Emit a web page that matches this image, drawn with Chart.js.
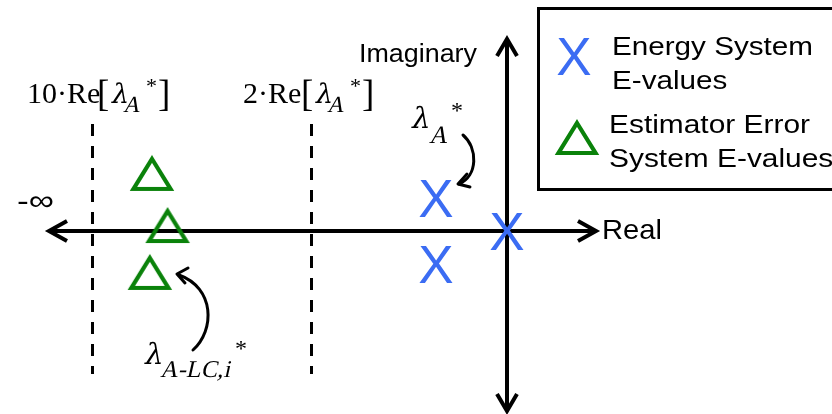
<!DOCTYPE html>
<html><head><meta charset="utf-8">
<script src="https://cdn.jsdelivr.net/npm/chart.js@4"></script>
<style>html,body{margin:0;padding:0;background:#fff;}canvas{display:block;}</style>
</head><body>
<canvas id="c" width="832" height="414"></canvas>
<script>
// ---- data (schematic units: Re[lambda_A*] = -1) ----
const energyRe = [0, -1, -1];
const energyIm = [0, 1, -1];
const estimatorRe = [-5.0, -4.78, -5.03];
const estimatorIm = [1.73, 0.15, -1.27];
const boundRe = [-5.85, -2.76];          // 10·Re[λA*], 2·Re[λA*] (schematic)
const boundMultipliers = ["10", "2"];
const legendLabels = [["Energy System", "E-values"], ["Estimator Error", "System E-values"]];
const axisLabels = ["Real", "Imaginary"];

const BLUE = '#3b6cf3', GREEN = '#0a820a';
const SANS = '"Liberation Sans", Arial, sans-serif';
const SERIF = '"Liberation Serif", "Times New Roman", "DejaVu Serif", serif';
const GREEK = '"DejaVu Serif", "Liberation Serif", serif';

function makeX(){
  const c = document.createElement('canvas'); c.width = 44; c.height = 46;
  const g = c.getContext('2d');
  g.fillStyle = BLUE; g.font = '53px ' + SANS; g.textAlign = 'center'; g.textBaseline = 'alphabetic';
  g.fillText('X', 22, 42);
  return c;
}
function makeTri(){
  const c = document.createElement('canvas'); c.width = 50; c.height = 42;
  const g = c.getContext('2d');
  g.strokeStyle = GREEN; g.lineWidth = 4.2; g.lineJoin = 'miter';
  g.beginPath(); g.moveTo(25, 6); g.lineTo(43.5, 36); g.lineTo(6.5, 36); g.closePath(); g.stroke();
  return c;
}
const xImg = makeX(), triImg = makeTri();

function fitText(ctx, text, x, y, font, width){
  ctx.save(); ctx.font = font;
  const w = ctx.measureText(text).width;
  const s = width ? width / w : 1;
  ctx.translate(x, y); ctx.scale(s, 1); ctx.fillText(text, 0, 0); ctx.restore();
  return s;
}
// slanted (pseudo-italic) text
function slantText(ctx, text, x, y, size, family){
  ctx.save(); ctx.font = size + 'px ' + (family || SERIF);
  ctx.translate(x, y); ctx.transform(1, 0, -0.22, 1, 0, 0); ctx.fillText(text, 0, 0); ctx.restore();
}
function lambda(ctx, x, y, size){ slantText(ctx, '\u03BB', x, y, size, GREEK); }
function chevron(ctx, tx, ty, ax, ay, bx, by){
  ctx.beginPath(); ctx.moveTo(ax, ay); ctx.lineTo(tx, ty); ctx.lineTo(bx, by); ctx.stroke();
}

const XMIN = -507/71, XMAX = (832-507)/71, YMAX = 231/33, YMIN = -(414-231)/33;

const diagram = {
  id: 'diagram',
  beforeDatasetsDraw(chart){
    const ctx = chart.ctx, xs = chart.scales.x, ys = chart.scales.y;
    const ox = xs.getPixelForValue(0), oy = ys.getPixelForValue(0);
    ctx.save();
    ctx.strokeStyle = '#000'; ctx.lineCap = 'butt';
    // dashed bound lines
    ctx.lineWidth = 3; ctx.setLineDash([12, 10]);
    boundRe.forEach(v => {
      const px = Math.round(xs.getPixelForValue(v)) + 0.5;
      ctx.beginPath(); ctx.moveTo(px, 124); ctx.lineTo(px, 374); ctx.stroke();
    });
    ctx.setLineDash([]);
    // axes
    ctx.lineWidth = 4;
    ctx.beginPath(); ctx.moveTo(50, oy); ctx.lineTo(595, oy); ctx.stroke();
    ctx.beginPath(); ctx.moveTo(ox, 40); ctx.lineTo(ox, 411); ctx.stroke();
    ctx.lineJoin = 'miter';
    chevron(ctx, 596, oy, 578, oy-10, 578, oy+10);
    chevron(ctx, 49, oy, 67, oy-10, 67, oy+10);
    chevron(ctx, ox, 39, ox-10, 56, ox+10, 56);
    chevron(ctx, ox, 411, ox-10, 394, ox+10, 394);
    ctx.restore();
  },
  afterDraw(chart){
    const ctx = chart.ctx;
    ctx.save();
    ctx.fillStyle = '#000'; ctx.textBaseline = 'alphabetic'; ctx.textAlign = 'left';
    // axis labels
    fitText(ctx, axisLabels[1], 359, 62, '26px ' + SANS, 118);
    fitText(ctx, axisLabels[0], 602, 239, '28px ' + SANS, 60);
    fitText(ctx, '-\u221E', 17, 210, '28px ' + SANS, 37);
    // bound labels
    const offs = [0, 204];
    boundMultipliers.forEach((m, i) => {
      const o = offs[i];
      const start = i === 0 ? 27 : 243;
      fitText(ctx, m + '\u00B7Re', start, 103, '30px ' + SERIF);
      fitText(ctx, '[', 97 + o, 106, '37px ' + SERIF);
      lambda(ctx, 110 + o, 103, 27);
      slantText(ctx, 'A', 123 + o, 112, 23);
      fitText(ctx, '*', 146 + o, 93, '22px ' + SERIF);
      fitText(ctx, ']', 158 + o, 106, '37px ' + SERIF);
    });
    // lambda_A* near pole
    lambda(ctx, 410, 128, 29);
    slantText(ctx, 'A', 429, 143, 25);
    fitText(ctx, '*', 451, 118, '24px ' + SERIF);
    // lambda_{A-LC,i}*
    lambda(ctx, 143, 364, 29);
    ctx.save(); ctx.font = '24px ' + SERIF;
    const w = ctx.measureText('A-LC,i').width;
    ctx.translate(160, 377); ctx.scale(70 / w, 1); ctx.transform(1, 0, -0.22, 1, 0, 0); ctx.fillText('A-LC,i', 0, 0);
    ctx.restore();
    fitText(ctx, '*', 235, 356, '24px ' + SERIF);
    // curved arrows
    ctx.strokeStyle = '#000'; ctx.lineWidth = 3; ctx.lineCap = 'round'; ctx.lineJoin = 'round';
    ctx.beginPath(); ctx.moveTo(463, 135); ctx.bezierCurveTo(478, 148, 478, 176, 459, 184); ctx.stroke();
    chevron(ctx, 458, 184, 467, 174, 470, 187);
    ctx.beginPath(); ctx.moveTo(193, 350); ctx.bezierCurveTo(215, 330, 215, 288, 179, 275); ctx.stroke();
    chevron(ctx, 177, 274, 188, 268, 185, 283);
    // legend box
    ctx.lineWidth = 3; ctx.lineCap = 'butt'; ctx.lineJoin = 'miter';
    ctx.strokeRect(538.5, 8.5, 320, 181);
    ctx.drawImage(xImg, 574 - xImg.width/2, 56 - xImg.height/2);
    ctx.drawImage(triImg, 577 - triImg.width/2, 138 - triImg.height/2);
    const s1 = fitText(ctx, legendLabels[0][0], 612, 55, '26px ' + SANS, 201);
    ctx.save(); ctx.translate(612, 89); ctx.scale(s1, 1); ctx.font = '26px ' + SANS; ctx.fillText(legendLabels[0][1], 0, 0); ctx.restore();
    const s2 = fitText(ctx, legendLabels[1][0], 609, 133, '26px ' + SANS, 201);
    ctx.save(); ctx.translate(609, 167); ctx.scale(s2, 1); ctx.font = '26px ' + SANS; ctx.fillText(legendLabels[1][1], 0, 0); ctx.restore();
    ctx.restore();
  }
};

new Chart(document.getElementById('c'), {
  type: 'scatter',
  data: {
    datasets: [
      { label: 'Energy System E-values', data: energyRe.map((r, i) => ({x: r, y: energyIm[i]})),
        pointStyle: xImg, pointRadius: 20, pointHoverRadius: 20 },
      { label: 'Estimator Error System E-values', data: estimatorRe.map((r, i) => ({x: r, y: estimatorIm[i]})),
        pointStyle: triImg, pointRadius: 20, pointHoverRadius: 20 }
    ]
  },
  options: {
    responsive: false, animation: false, devicePixelRatio: 1, events: [],
    layout: { padding: 0, autoPadding: false },
    scales: {
      x: { type: 'linear', min: XMIN, max: XMAX, display: false },
      y: { type: 'linear', min: YMIN, max: YMAX, display: false }
    },
    plugins: { legend: { display: false }, tooltip: { enabled: false } }
  },
  plugins: [diagram]
});
</script>
</body></html>
